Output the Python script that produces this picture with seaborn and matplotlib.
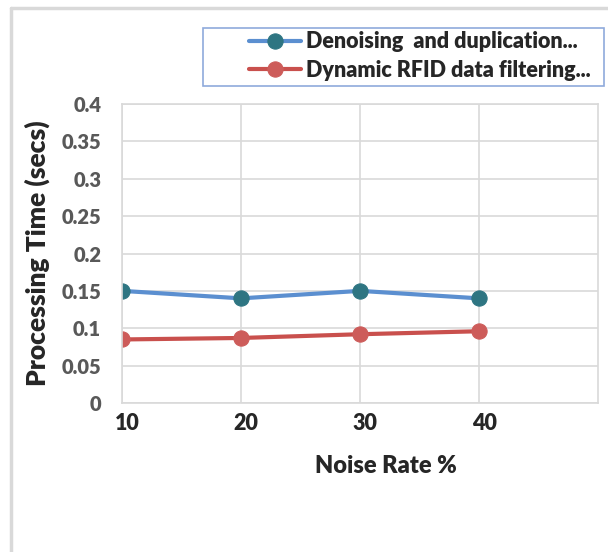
import matplotlib
matplotlib.use("Agg")
import matplotlib.pyplot as plt
import matplotlib.transforms as mtransforms
import seaborn as sns
import pandas as pd
from matplotlib.lines import Line2D
from matplotlib.patches import Rectangle

# data
noise_rate = [10, 20, 30, 40]
denoising = [0.150, 0.140, 0.150, 0.140]
dynamic_rfid = [0.085, 0.087, 0.092, 0.096]
series_names = ["Denoising  and duplication...", "Dynamic RFID data filtering..."]
y_ticks = [0, 0.05, 0.1, 0.15, 0.2, 0.25, 0.3, 0.35, 0.4]

sns.set_style("white")
plt.rcParams["font.family"] = ["Lato", "DejaVu Sans"]
plt.rcParams["font.weight"] = "bold"

df = pd.DataFrame({"noise": noise_rate, "a": denoising, "b": dynamic_rfid})

fig = plt.figure(figsize=(6.08, 5.52), dpi=100)
ax = fig.add_axes([122 / 608, 1 - 403 / 552, 476 / 608, 299 / 552])

sns.lineplot(data=df, x="noise", y="a", ax=ax, color="#5b8fd0", linewidth=3,
             marker="o", markersize=11, markerfacecolor="#2e7582",
             markeredgecolor="#2e7582", label=series_names[0])
sns.lineplot(data=df, x="noise", y="b", ax=ax, color="#c9504d", linewidth=3,
             marker="o", markersize=11, markerfacecolor="#cd5c5a",
             markeredgecolor="#cd5c5a", label=series_names[1])

ax.set_xlim(10, 50)
ax.set_ylim(0, 0.4)
ax.set_xticks(noise_rate)
ax.set_yticks(y_ticks)
ax.set_yticklabels([f"{v:g}" for v in y_ticks])
ax.grid(True, color="#d9d9d9", linewidth=1.2)
for s in ax.spines.values():
    s.set_color("#d9d9d9")
    s.set_linewidth(1.2)
ax.tick_params(axis="both", length=0)
ax.tick_params(axis="y", labelsize=14.5, labelcolor="#595959", pad=15)
ax.tick_params(axis="x", labelsize=15.5, labelcolor="#262626", pad=7)
for lab in ax.get_xticklabels() + ax.get_yticklabels():
    lab.set_fontweight("heavy")
# excel draws the category labels a little right of the gridline
shift = mtransforms.ScaledTranslation(5 / 100, 0, fig.dpi_scale_trans)
for lab in ax.get_xticklabels():
    lab.set_transform(lab.get_transform() + shift)

ax.set_xlabel("Noise Rate %", fontsize=17, fontweight="heavy", color="#262626")
ax.set_ylabel("Processing Time (secs)", fontsize=19, fontweight="heavy", color="#262626")
ax.xaxis.set_label_coords(0.555, -0.174)
ax.yaxis.set_label_coords(-0.151, 0.5)

ax.legend_.remove()
h, l = ax.get_legend_handles_labels()
fig.legend(h, l, loc="center left", bbox_to_anchor=(249 / 608, 1 - 56 / 552),
           frameon=False, prop={"weight": "heavy", "size": 15.5},
           handlelength=2.4, handletextpad=0.25, labelspacing=0.35,
           borderpad=0, borderaxespad=0)

# legend frame and outer chart border
fig.add_artist(Rectangle((203 / 608, 1 - 86 / 552), 401 / 608, 58 / 552,
                         transform=fig.transFigure, fill=False,
                         edgecolor="#8faadc", linewidth=1.2))
fig.add_artist(Line2D([11 / 608, 11 / 608], [0, 1 - 8 / 552], transform=fig.transFigure,
                      color="#d9d9d9", linewidth=2.5))
fig.add_artist(Line2D([11 / 608, 1], [1 - 8 / 552, 1 - 8 / 552], transform=fig.transFigure,
                      color="#d9d9d9", linewidth=2.5))

fig.savefig("out.png", dpi=100)
